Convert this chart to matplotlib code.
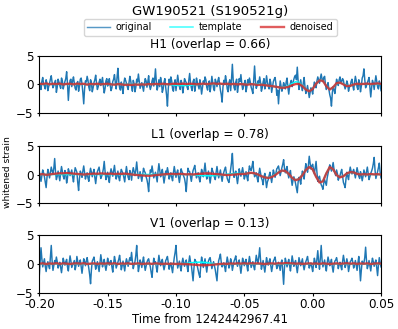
import numpy as np
import matplotlib
matplotlib.use("Agg")
import matplotlib.pyplot as plt

title = "GW190521 (S190521g)"
xlabel = "Time from 1242442967.41"
ylabel = "whitened strain"
detectors = ["H1", "L1", "V1"]
overlaps = [0.66, 0.78, 0.13]
t_start, t_end = -0.20, 0.05
xticks = [-0.20, -0.15, -0.10, -0.05, 0.00, 0.05]
yticks = [-5, 0, 5]

h1_original = [
    0.4, -0.3, -0.9, 0.5, 1.2, 0.1, -0.3, -0.8, 0.8, 0.2, -1.1, -0.4, 0.2, 0.9, 1.5, 0.3, -0.6, -0.2, 0.3, 0.7,
    -1.4, -0.5, 0.9, 0.4, -0.2, -0.7, 1.1, 0.6, -0.8, -0.1, 0.5, 1.0, 2.2, 0.1, -2.8, -0.6, 0.7, 0.9, -0.4, 0.6,
    1.3, 0.2, -0.7, -1.0, 0.2, 0.5, -1.2, -0.3, 0.9, 1.1, 0.1, -1.5, -3.4, -0.8, 0.6, 0.4, 1.4, 0.7, -0.5, -1.1,
    0.8, 0.3, -1.3, -0.6, 0.3, 0.8, 1.6, 0.2, -0.9, -0.4, 0.4, 0.9, -0.2, 0.5, 1.2, -0.3, -1.5, -0.7, 0.6, 1.0,
    -0.3, 0.4, 1.0, -0.2, -1.1, -0.6, 0.5, 0.9, 1.7, 0.3, -0.8, 1.2, 2.8, 0.5, -0.6, -1.0, 0.4, -0.5, -1.6, 0.2,
    1.1, 0.7, 0.2, -0.4, -0.9, 0.3, 1.4, 0.6, -0.4, -1.2, 0.7, 0.1, -1.3, -0.5, 0.9, 0.4, 1.8, 0.5, -0.7, -0.2,
    0.3, -0.5, -1.2, 0.1, 1.0, 0.6, -0.5, 0.4, 1.5, -0.2, -0.9, -0.3, 0.6, 1.1, -0.3, 0.8, 2.7, 0.4, -1.0, -0.2,
    0.8, -0.4, 1.2, 0.3, -1.4, -0.8, 0.4, 1.0, -0.6, -1.9, -3.8, -0.7, 0.9, 0.2, 1.3, 0.6, -0.8, -1.2, 0.2, 0.8,
    -1.1, 0.2, 1.6, 0.5, -0.4, -0.9, 0.7, 0.1, -1.5, -0.4, 1.0, 0.6, 0.3, -0.5, -0.9, 0.7, 1.9, 0.3, -0.6, -1.1,
    0.5, 0.9, -1.2, -0.2, 1.1, 0.4, -0.2, -0.8, 0.8, -0.3, -1.7, -0.6, 0.6, 0.2, 1.3, 0.8, -0.5, -1.0, 0.1, 0.6,
    -1.3, -0.2, 1.4, 0.3, -0.7, -1.1, 0.9, 0.4, -0.4, 0.6, 1.2, 0.2, -1.0, -1.8, -3.1, -0.5, 0.7, 0.2, 1.5, 0.6,
    -0.8, -1.3, 0.3, 0.8, -1.1, 0.9, 3.5, 0.7, -0.6, -1.0, 0.4, 0.9, -1.4, -0.3, 1.0, 0.5, 1.7, 0.2, -0.9, -0.4,
    0.2, 0.7, -1.3, -0.4, 0.8, 0.2, 1.1, 0.4, -0.5, -1.0, -1.6, 0.9, 3.2, 0.6, -0.7, -0.2, 0.6, 0.2, 1.3, 0.3,
    -1.2, -0.6, 0.4, 1.0, -0.8, 0.1, 1.5, 0.4, -0.3, -0.8, 0.9, 0.3, -1.4, -0.5, 0.5, 0.9, 1.2, 0.1, -1.9, -1.0,
    -3.4, -1.2, 0.6, -0.3, -1.2, -0.6, 0.3, -0.2, -0.8, 0.4, 1.1, -0.5, -1.7, -0.4, 0.2, 0.7, -0.4, 0.3, 0.9, 1.4,
    1.6, 0.8, 3.0, 0.6, -0.9, -0.2, 0.8, -0.3, -1.1, 0.2, 1.2, -0.4, -1.6, -1.0, -0.2, -1.3, -2.3, -1.4, -0.6, -1.0,
    -1.7, -0.5, 0.4, 0.1, -0.6, 0.6, 1.3, 0.8, 0.2, 1.1, 1.8, 0.9, 0.5, 1.2, 1.4, -0.1, -0.9, -0.4, 0.3, -0.9,
    -1.8, -2.4, -3.8, -1.5, -0.4, -0.9, -1.6, -0.3, 0.9, 0.3, -0.2, 0.8, 1.3, 0.4, 0.5, 1.0, 0.7, -0.2, -0.8, -0.3,
    0.6, 0.1, -1.2, -0.5, -0.3, 0.5, 0.9, -0.2, -1.0, 0.3, 1.4, 0.6, -0.5, -0.9, 0.8, 0.2, -1.3, -0.3, 1.1, 1.5,
    2.7, 0.8, -0.6, -0.2, 0.3, 0.7, 1.2, -0.4, -2.2, -0.6, 0.7, 0.2, -0.9, 0.4, 1.5, 0.6, -0.4, -0.8, 0.6, 0.1, -1.1,
]
l1_original = [
    0.5, -0.4, -1.2, -0.2, 0.8, 0.3, -0.4, -1.3, -2.3, -0.5, 0.9, 0.2, -0.6, 0.4, 1.3, 0.6, 0.2, 1.1, 2.8, 0.4,
    -0.9, -0.3, 0.6, -0.2, -1.1, 0.3, 1.4, 0.5, -0.3, -0.8, 0.7, 0.1, -1.5, -0.6, 1.0, 0.5, -0.2, 0.3, 0.8, -0.4,
    -1.3, 0.1, 1.2, 0.8, 0.4, -1.4, -2.8, -0.7, 0.6, 0.2, -0.5, 0.6, 1.5, 0.3, -0.8, -0.2, 0.3, -0.6, -1.2, 0.2,
    1.1, 0.4, -0.4, 0.3, 0.9, -0.5, -1.6, -0.3, 0.5, 0.9, 1.3, 0.2, -0.7, -0.3, 0.2, 1.0, 2.3, 0.5, -0.9, -0.3,
    0.4, -0.6, -1.4, 0.2, 1.0, 0.4, -0.3, 0.7, 1.6, 0.2, -0.8, -0.2, 0.6, -0.5, -1.1, 0.1, 0.9, 0.5, 0.2, -0.6,
    -1.3, 0.2, 1.4, 0.3, -0.5, -0.9, 0.7, 0.2, -1.0, 0.4, 1.2, 0.5, -0.2, 0.8, 2.2, 0.6, -0.7, -0.2, 0.5, -0.3,
    -1.2, -0.1, 1.1, 0.6, 0.3, -0.4, -0.9, -1.7, -3.0, -0.6, 0.8, 0.4, 1.5, 0.5, -0.6, -0.1, 0.4, -0.5, -1.3, 0.6,
    1.9, 0.7, -0.4, 0.2, 0.9, -0.3, -1.5, -0.4, 0.6, 0.2, 1.2, 0.4, -0.8, -0.2, 0.3, -0.5, -1.1, 0.3, 1.4, 0.5,
    -0.5, 0.3, 0.8, -0.4, -1.4, -0.2, 1.0, 0.5, 0.2, -0.3, -0.7, -1.6, -3.0, -0.8, 1.1, 0.6, 0.5, -0.4, -1.2, -0.1,
    0.7, 1.1, 1.6, 0.4, -0.6, -0.1, 0.3, -0.6, -1.3, -0.2, 0.9, 0.3, -0.4, 0.7, 2.0, 0.5, -0.8, -0.2, 0.6, -0.4,
    -1.5, -0.3, 1.1, 0.6, 0.2, -0.5, -0.9, 0.4, 1.4, 0.3, -0.6, 0.1, 0.8, -0.3, -1.2, -0.2, 0.4, 0.9, 1.3, 0.2,
    -0.7, -1.1, -1.4, -0.2, 0.9, 2.1, 3.7, 0.8, -0.5, 0.1, 0.6, -0.5, -1.6, -0.4, 1.0, 0.3, -0.3, 0.5, 1.2, 0.2,
    -0.8, -0.2, 0.5, -0.4, -1.1, 0.3, 1.5, 0.9, 0.7, 1.4, 2.3, 0.6, -0.4, -0.1, 0.3, -0.6, -1.3, 0.1, 1.1, 0.2,
    -0.6, -1.0, -1.8, -0.4, 0.2, -0.9, -2.3, -1.3, -0.9, -0.2, 0.4, -0.5, -1.4, -0.3, 0.8, 0.2, -0.5, 0.3, 1.0, 1.2,
    1.5, 0.6, -0.2, 0.5, 1.2, 1.8, 2.6, 1.1, 0.3, 0.9, 1.4, 0.2, -0.6, 0.1, 0.7, -0.8, -1.9, -1.0, -0.4, -0.9,
    -1.6, -2.4, -3.2, -1.3, -0.5, -0.9, -1.7, -0.4, 0.6, 0.1, -0.8, 0.7, 1.9, 1.2, 0.4, 1.6, 3.2, 2.0, 1.0, 1.5,
    1.8, 0.9, 0.1, 1.2, 2.3, 0.4, -1.2, -0.6, -0.3, -1.2, -1.8, -2.1, -2.6, -1.5, -0.9, -1.4, -1.9, -0.6, 0.2, 1.0,
    1.7, 1.2, 0.6, 1.4, 2.1, 0.9, 0.3, -0.2, 0.8, 0.1, -1.0, -0.5, -0.2, 0.4, 0.9, -0.3, -1.4, -1.8, -2.3, -0.8,
    0.4, -0.3, -0.9, 0.4, 1.3, 0.6, 0.1, 0.5, 0.9, 0.2, -0.6, 0.3, 1.2, 0.4, -0.3, -0.7, 0.5, -0.2, -1.1, -0.3,
    0.8, 0.2, -0.4, 0.5, 1.3, 0.2, -0.9, -0.4, 0.2, 0.6, 1.1, 1.9, 3.0, 0.8, -0.7, -0.1, 0.5, 1.2, 2.0, 0.4, -0.6,
]
v1_original = [
    -2.0, 0.3, 2.8, 0.9, -0.5, 0.2, 0.9, -0.4, -1.3, -0.2, 0.4, -0.3, -0.8, 1.1, 3.2, 0.5, -1.1, -0.3, 0.6, 0.2,
    1.2, 0.4, -0.7, -0.1, 0.3, -0.6, -1.5, -0.2, 1.0, 0.3, -0.2, 0.4, 0.8, -0.5, -1.2, 0.2, 1.4, 0.5, -0.6, -0.2,
    0.2, 0.6, -1.0, -0.2, 1.3, 0.4, -0.4, 0.2, 0.7, -0.5, -1.6, -0.3, 0.9, 0.4, -0.3, 0.5, 1.1, 0.2, -0.8, -1.9,
    -3.4, -1.0, 0.5, 0.8, 1.2, 0.1, -0.9, -0.2, 0.4, -0.4, -1.3, 0.2, 1.6, 0.6, -0.5, 0.1, 0.8, -0.3, -1.1, -0.2,
    1.0, 0.3, -0.2, 0.4, 0.6, -0.5, -1.4, 0.1, 1.3, 0.5, -0.7, -0.2, 0.3, 0.8, 1.5, 0.2, -1.0, -0.3, 0.5, -0.4,
    -1.2, 0.1, 0.9, 0.3, -0.4, 0.5, 1.1, 0.6, 2.0, 0.4, -0.8, -0.1, 0.4, 1.5, 3.2, 0.6, -1.3, -0.4, 0.7, 0.2,
    -0.6, 0.4, 1.2, -0.1, -1.1, -0.4, 0.3, 0.7, 0.9, 0.1, -0.5, -1.5, -2.3, -0.4, 1.0, 0.3, 0.4, -0.6, -1.4, 0.2,
    1.5, 0.5, -0.3, 0.4, 0.8, -0.2, -1.0, -0.3, 0.6, 0.9, 1.3, 0.2, -0.9, -0.2, 0.2, -0.6, -1.5, -0.1, 1.1, 2.0,
    3.2, 0.9, -0.7, -0.1, 0.5, -0.5, -1.2, 0.2, 1.0, 0.3, -0.4, 0.2, 0.7, -0.4, -1.3, 0.3, 1.4, 0.4, -0.2, -1.6,
    -2.9, -0.8, 0.8, 0.5, 0.3, -0.4, -1.1, -1.8, -2.3, -0.3, 1.2, 0.4, -0.6, 0.2, 0.9, -0.3, -1.4, -0.2, 0.5, 0.9,
    1.1, 0.2, -0.8, -0.2, 0.4, -0.3, -1.0, -1.9, -2.9, -0.6, 0.6, 1.1, 1.7, 0.3, -0.5, -0.1, 0.2, -0.5, -1.3, 0.1,
    1.2, 0.4, -0.7, -0.2, 0.9, 0.3, -1.1, -0.3, 0.5, 0.9, 1.4, 0.2, -0.4, 0.3, 0.7, -0.5, -1.6, -0.3, 1.0, 0.4,
    -0.3, 0.4, 0.8, -0.3, -1.2, 0.2, 1.3, 0.4, -0.6, -0.1, 0.4, -0.4, -1.0, 0.3, 1.5, 0.6, 0.2, 1.3, 2.8, 0.7,
    -0.9, -0.2, 0.6, -0.5, -1.4, -0.1, 1.1, 0.3, -0.2, 0.4, 0.9, -0.3, -1.3, -0.4, 0.5, 0.8, 1.2, 0.2, -0.8, -0.3,
    0.3, -0.4, -1.1, 0.2, 0.7, -1.4, -3.5, -0.6, 1.0, 0.3, -0.5, 0.2, 0.8, -0.3, -1.2, 0.1, 1.4, 0.5, -0.4, 0.2,
    0.6, -0.4, -1.5, -0.3, 1.1, 0.4, -0.3, 0.3, 0.9, -0.2, -1.0, -0.2, 0.4, 0.8, 1.3, 0.2, -0.7, -0.2, 0.2, -0.5,
    -1.3, -0.2, 1.0, 0.3, -0.6, 0.8, 2.3, 0.4, -0.9, 1.0, 3.2, 0.7, -0.5, 0.1, 0.7, -0.4, -1.2, 0.2, 1.2, 0.5,
    -0.3, 0.2, 0.8, -0.5, -1.4, -0.2, 0.5, 0.7, 1.1, 0.3, -0.8, -0.1, 0.3, -0.4, -1.0, 0.4, 1.5, 0.6, -0.6, -0.1,
    0.9, 0.2, -1.3, -0.4, 0.4, 0.6, 1.0, 0.3, -0.7, -0.1, 0.6, -0.3, -1.1, 0.2, 1.3, -0.6, -2.9, -1.0, 0.5, 0.1,
    0.2, 1.1, 2.9, 0.6, -0.8, -0.2, 0.6, -0.3, -1.2, 0.1, 1.0, 0.4, -0.4, 0.2, 0.7, -0.6, -2.0, -0.2, 1.1, 0.3, -0.5,
]

h1_denoised = [
    0.1, 0.05, 0.15, 0.0, 0.1, 0.05, 0.12, -0.02, 0.08, 0.1, 0.0, 0.12, 0.05, 0.1, -0.05, 0.08, 0.02, 0.1, 0.0, 0.06,
    0.1, 0.0, -0.05, 0.04, 0.0, -0.08, -0.05, -0.1, -0.02, -0.06, 0.0, -0.04, 0.05, 0.0, 0.08, 0.02, 0.1, 0.05, 0.0, 0.08,
    0.1, 0.05, 0.12, 0.04, 0.1, 0.08, 0.0, 0.06, 0.12, 0.05, 0.1, 0.15, 0.08, 0.12, 0.05, 0.1, 0.02, 0.08, 0.0, 0.05,
    0.0, -0.05, 0.04, -0.02, -0.1, -0.05, -0.15, -0.22, -0.3, -0.4, -0.5, -0.6, -0.55, -0.4, -0.15, 0.05, 0.1, -0.3, -0.9, -1.2,
    -0.8, 0.1, 0.7, 0.6, -0.3, -0.9, -0.5, 0.2, 0.3, 0.0, -0.3, -0.25, -0.05, 0.1, 0.05, 0.08, 0.12, 0.05, 0.1, 0.15, 0.08,
]
l1_denoised = [
    0.0, 0.05, -0.05, 0.0, 0.1, 0.15, 0.2, 0.2, 0.25, 0.2, 0.15, 0.1, 0.05, 0.0, 0.05, 0.1, 0.15, 0.12, 0.18, 0.15,
    0.1, 0.15, 0.08, 0.12, 0.1, 0.15, 0.08, 0.0, -0.05, -0.1, -0.15, -0.2, -0.22, -0.18, -0.1, -0.05, 0.0, 0.05, 0.08, 0.1,
    0.05, 0.1, 0.08, 0.02, 0.05, 0.0, 0.08, 0.12, 0.15, 0.2, 0.18, 0.1, 0.05, 0.0, -0.05, -0.1, -0.05, 0.0, 0.05, 0.1,
    0.1, 0.2, 0.3, 0.2, 0.0, -0.3, -0.5, -0.6, -0.45, -0.1, 0.35, 0.7, 0.6, 0.1, -0.6, -1.0, -0.8, -0.1, 0.8, 1.3,
    0.9, -0.4, -1.4, -1.2, 0.2, 1.3, 0.9, -0.1, -0.5, -0.3, 0.2, 0.4, 0.35, 0.1, 0.0, 0.05, 0.0, 0.08, 0.02, 0.05, 0.0,
]
v1_denoised = [
    0.05, 0.1, 0.0, 0.08, 0.05, 0.12, 0.02, 0.1, 0.05, 0.0, 0.08, 0.1, 0.05, 0.12, 0.0, 0.06, 0.1, 0.02, 0.08, 0.05,
    0.1, 0.04, 0.12, 0.0, 0.08, 0.05, 0.1, 0.02, 0.06, 0.1, 0.0, 0.05, 0.08, 0.02, 0.1, 0.05, 0.0, 0.06, 0.02, 0.05,
    0.0, 0.04, -0.02, 0.0, -0.05, -0.1, -0.15, -0.2, -0.22, -0.2, -0.15, -0.1, -0.05, 0.0, 0.05, 0.02, 0.08, 0.05, 0.1, 0.06,
    0.1, 0.05, 0.12, 0.08, 0.1, 0.05, 0.0, 0.06, 0.1, 0.05, 0.12, 0.08, 0.15, 0.12, 0.1, 0.05, 0.08, 0.02, 0.06, 0.1,
    0.05, 0.08, 0.02, 0.1, 0.05, 0.0, 0.06, 0.1, 0.04, 0.08, 0.12, 0.05, 0.1, 0.02, 0.08, 0.05, 0.1, 0.0, 0.06, 0.1, 0.05,
]

h1_template = [0.0] * 38 + [
    -0.05, -0.1, -0.15, -0.2, -0.22, -0.2, -0.15, -0.1, -0.05, 0.0, 0.02, 0.03,
    0.03, 0.03, 0.03, 0.03, 0.03, 0.03, 0.03, 0.03, 0.03, 0.03, 0.03, 0.03, 0.03, 0.03, 0.03, 0.0,
    -0.1, -0.2, -0.3, -0.4, -0.5, -0.55, -0.45, -0.2, 0.15, 0.45, 0.35, -0.2, -0.85, -1.15,
    -0.75, 0.1, 0.75, 0.65, -0.25, -0.85, -0.55, 0.1, 0.3, 0.1, -0.2, -0.25, -0.1, 0.05, 0.1, 0.05,
    0.0, 0.0, 0.0, 0.0, 0.0,
]
l1_template = [0.0] * 45 + [
    -0.05, -0.1, -0.15, -0.2, -0.22, -0.22, -0.2, -0.18, -0.12, -0.05, 0.05, 0.12, 0.18, 0.2, 0.18,
    0.15, 0.2, 0.25, 0.15, -0.05, -0.3, -0.5, -0.55, -0.35, 0.05, 0.45, 0.7, 0.55, 0.05, -0.6, -0.95, -0.75, 0.0, 0.85, 1.25,
    0.85, -0.35, -1.35, -1.15, 0.25, 1.25, 0.85, -0.1, -0.45, -0.25, 0.15, 0.35, 0.3, 0.1, 0.0, 0.0, 0.0, 0.0, 0.0, 0.0, 0.0,
]
v1_template = [0.0] * 42 + [
    0.05, 0.1, 0.18, 0.25, 0.3, 0.32, 0.3, 0.25, 0.15, 0.05, -0.05, -0.08, -0.05, 0.0,
] + [0.0] * 45

originals = [h1_original, l1_original, v1_original]
templates = [h1_template, l1_template, v1_template]
denoised = [h1_denoised, l1_denoised, v1_denoised]

W, H = 398, 329
fig = plt.figure(figsize=(W / 100, H / 100), dpi=100)

left, right = 39.3 / W, 381 / W
panel_px = [(55.7, 113), (146, 203), (235, 293)]
handles = []
for k, (top, bot) in enumerate(panel_px):
    ax = fig.add_axes([left, 1 - bot / H, right - left, (bot - top) / H])
    orig = np.asarray(originals[k])
    tmpl = np.asarray(templates[k])
    den = np.asarray(denoised[k])
    t_o = np.linspace(t_start, t_end, len(orig))
    t_t = np.linspace(t_start, t_end, len(tmpl))
    t_d = np.linspace(t_start, t_end, len(den))
    l1, = ax.plot(t_o, orig, color="#1f77b4", lw=1.05, label="original")
    l2, = ax.plot(t_t, tmpl, color="cyan", lw=1.1, label="template")
    l3, = ax.plot(t_d, den, color="#d62728", lw=1.7, alpha=0.85, label="denoised")
    handles = [l1, l2, l3]
    ax.set_xlim(t_start, t_end)
    ax.set_ylim(-5, 5)
    ax.set_yticks(yticks)
    ax.set_xticks(xticks)
    ax.tick_params(axis="both", labelsize=8.6, length=1.8, width=0.8)
    ax.tick_params(axis="y", pad=2.5)
    ax.tick_params(axis="x", pad=1.5)
    ax.set_title(f"{detectors[k]} (overlap = {overlaps[k]:.2f})", fontsize=8.7, pad=5.5)
    if k < 2:
        ax.set_xticklabels([])
    else:
        ax.set_xticklabels([f"{v:.2f}" for v in xticks])
        ax.set_xlabel(xlabel, fontsize=8.4, labelpad=1.5)

cx = (left + right) / 2
fig.text(cx, 1 - 12 / H, title, ha="center", va="center", fontsize=9.5)
fig.text(7.5 / W, 1 - 172 / H, ylabel, rotation=90, ha="center", va="center", fontsize=6.6)
leg = fig.legend(handles=handles, loc="center", bbox_to_anchor=(cx, 1 - 27.5 / H),
                 ncol=3, fontsize=6.9, frameon=True, handlelength=2.4, columnspacing=1.9,
                 borderpad=0.35, handletextpad=0.6)
for h in leg.get_lines():
    h.set_alpha(0.75)

fig.savefig("out.png", dpi=100)
